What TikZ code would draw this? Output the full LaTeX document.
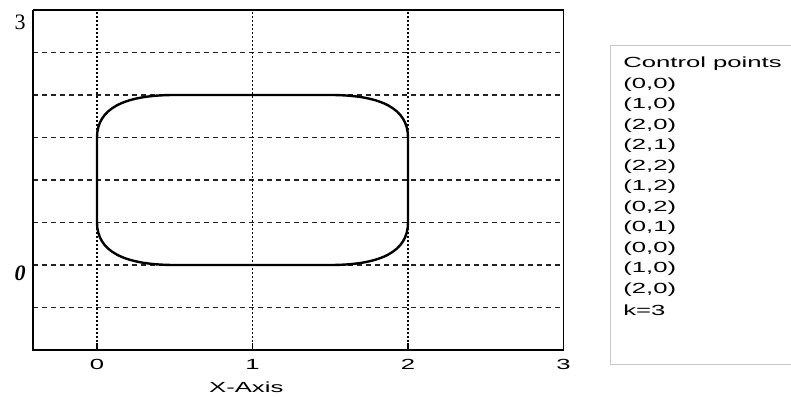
\documentclass[tikz,border=0pt]{standalone}
\usepackage{fontspec}
\usepackage{graphicx}
\setmainfont{Liberation Serif}
\setsansfont{Liberation Sans}
\usetikzlibrary{positioning}
\definecolor{GridInk}{HTML}{222222}
\definecolor{PanelEdge}{HTML}{C8C8C8}
\newcommand{\widetxt}[1]{\scalebox{1.75}[1]{#1}}
\tikzset{gridrow/.style={draw=GridInk,line width=0.85pt,dash pattern=on 3.75pt off 3pt},gridcol/.style={draw=black,line width=1.2pt,dash pattern=on 1.5pt off 1.5pt},heavyedge/.style={draw=black,line width=1.4pt},lightedge/.style={draw=black,line width=0.9pt},splinecurve/.style={draw=black,line width=1.8pt,line join=round},ticklbl/.style={font=\sffamily\fontsize{11}{13}\selectfont,inner sep=0pt},legendtxt/.style={font=\sffamily\fontsize{11}{13}\selectfont,anchor=west,inner sep=0pt},yval/.style={font=\fontsize{16.5}{18}\selectfont,inner sep=0pt}}

\begin{document}
\begin{tikzpicture}[x=116.625pt,y=63.75pt]
\useasboundingbox (-0.6238,-1.5412) rectangle (4.4630,3.1176);
\fill[white] (-0.6238,-1.5412) rectangle (4.4630,3.1176);
\foreach \r in {-0.5,0,...,2.5} \draw[gridrow] (-0.4116,\r) -- (3,\r);
\foreach \c in {0,1,2} {\draw[gridcol] (\c,-1) -- (\c,3);\draw[heavyedge] (\c,-1) -- (\c,-0.92);}
\draw[lightedge] (-0.4116,3) -- (3,3) -- (3,-1);
\draw[heavyedge] (-0.4116,3) -- (-0.4116,-1) -- (3,-1);
\draw[splinecurve] (0.5,0) -- (1.5,0) .. controls (1.8333,0) and (2,0.1667) .. (2,0.5) -- (2,1.5) .. controls (2,1.8333) and (1.8333,2) .. (1.5,2) -- (0.5,2) .. controls (0.1667,2) and (0,1.8333) .. (0,1.5) -- (0,0.5) .. controls (0,0.1667) and (0.1667,0) .. (0.5,0) -- cycle;
\node[yval] (ytop) at (-0.495,2.859) {3};\node[yval,font=\bfseries\itshape\fontsize{16.5}{18}\selectfont] (yzero) at (-0.495,-0.094) {0};
\foreach \c in {0,1,2,3} \node[ticklbl] (xt\c) at (\c,-1.165) {\widetxt{\c}};
\node[ticklbl] (xname) at (0.96,-1.435) {\widetxt{X-Axis}};
\draw[draw=PanelEdge,line width=0.75pt] (3.305,-1.176) rectangle (4.5,2.588);
\foreach \t [count=\i from 0] in {Control points,{(0,0)},{(1,0)},{(2,0)},{(2,1)},{(2,2)},{(1,2)},{(0,2)},{(0,1)},{(0,0)},{(1,0)},{(2,0)},k=3} \node[legendtxt] (lg\i) at (3.383,{2.365-0.2412*\i}) {\widetxt{\t}};
\end{tikzpicture}
\end{document}
